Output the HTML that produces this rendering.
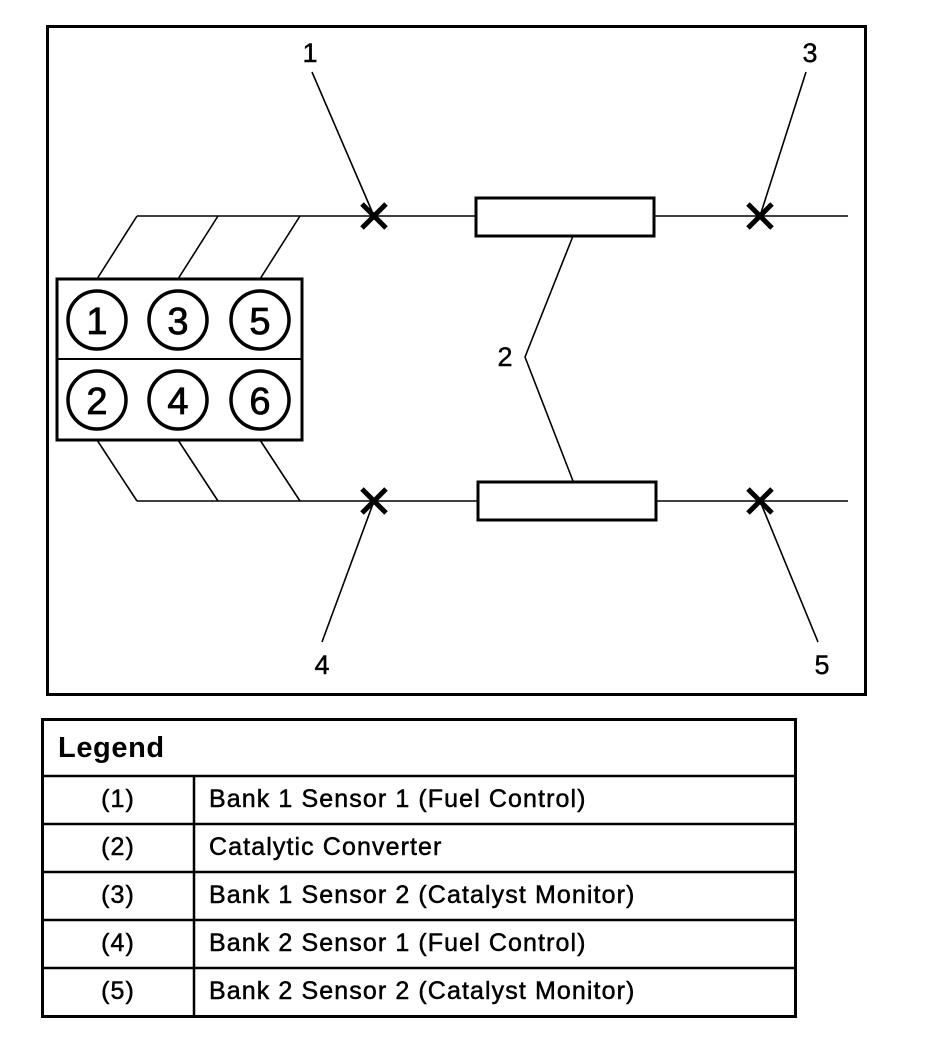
<!DOCTYPE html>
<html><head><style>
body{margin:0;background:#fff;width:928px;height:1044px;overflow:hidden}
svg{position:absolute;left:0;top:0}
</style></head><body>
<svg width="928" height="1044" xmlns="http://www.w3.org/2000/svg" font-family="Liberation Sans, sans-serif">
<rect x="0" y="0" width="928" height="1044" fill="#fff"/>
<rect x="47.5" y="26.5" width="818" height="668" fill="none" stroke="#000" stroke-width="3"/>
<rect x="57" y="279" width="245" height="161" fill="none" stroke="#000" stroke-width="3"/>
<line x1="57" y1="359" x2="302" y2="359" stroke="#000" stroke-width="2"/>
<g fill="none" stroke="#000" stroke-width="3.5">
<circle cx="97" cy="320" r="29"/><circle cx="178" cy="320" r="29"/><circle cx="260" cy="320" r="29"/>
<circle cx="97" cy="400" r="29"/><circle cx="178" cy="400" r="29"/><circle cx="260" cy="400" r="29"/>
</g>
<g font-size="38" text-anchor="middle" stroke="#000" stroke-width="0.8">
<text x="97" y="334">1</text><text x="178" y="334">3</text><text x="260" y="334">5</text>
<text x="97" y="414">2</text><text x="178" y="414">4</text><text x="260" y="414">6</text>
</g>
<g stroke="#000" stroke-width="1.6" fill="none">
<line x1="97" y1="279" x2="137" y2="216"/><line x1="178" y1="279" x2="218" y2="216"/><line x1="260" y1="279" x2="300" y2="216"/>
<line x1="97" y1="440" x2="137" y2="501"/><line x1="178" y1="440" x2="218" y2="501"/><line x1="260" y1="440" x2="300" y2="501"/>
<line x1="137" y1="216" x2="475" y2="216"/><line x1="654" y1="216" x2="848" y2="216"/>
<line x1="137" y1="501" x2="477" y2="501"/><line x1="656" y1="501" x2="848" y2="501"/>
<line x1="312" y1="72" x2="374" y2="216"/><line x1="806" y1="72" x2="760" y2="216"/>
<polyline points="573,236 525,357 573,481"/>
<line x1="374" y1="501" x2="322" y2="642"/><line x1="760" y1="501" x2="818" y2="642"/>
</g>
<g fill="none" stroke="#000" stroke-width="3">
<rect x="476" y="198" width="178" height="38"/>
<rect x="478" y="482" width="178" height="38"/>
</g>
<g stroke="#000" stroke-width="5">
<line x1="362" y1="204" x2="386" y2="228"/><line x1="386" y1="204" x2="362" y2="228"/>
<line x1="748" y1="204" x2="772" y2="228"/><line x1="772" y1="204" x2="748" y2="228"/>
<line x1="362" y1="489" x2="386" y2="513"/><line x1="386" y1="489" x2="362" y2="513"/>
<line x1="748" y1="489" x2="772" y2="513"/><line x1="772" y1="489" x2="748" y2="513"/>
</g>
<g font-size="27" text-anchor="middle" stroke="#000" stroke-width="0.4">
<text x="310" y="62">1</text><text x="810" y="62">3</text><text x="505" y="366">2</text>
<text x="322" y="674">4</text><text x="822" y="674">5</text>
</g>
<rect x="42.5" y="719.5" width="753" height="297" fill="none" stroke="#000" stroke-width="3"/>
<g stroke="#000" stroke-width="2.5">
<line x1="42" y1="776" x2="796" y2="776"/><line x1="42" y1="824" x2="796" y2="824"/>
<line x1="42" y1="872" x2="796" y2="872"/><line x1="42" y1="920" x2="796" y2="920"/>
<line x1="42" y1="968" x2="796" y2="968"/><line x1="194" y1="776" x2="194" y2="1017"/>
</g>
<text x="58" y="757" font-size="29" font-weight="bold" letter-spacing="0.6">Legend</text>
<g font-size="25" stroke="#000" stroke-width="0.5" letter-spacing="1.1">
<g text-anchor="middle">
<text x="118" y="807">(1)</text><text x="118" y="855">(2)</text><text x="118" y="903">(3)</text><text x="118" y="951">(4)</text><text x="118" y="999">(5)</text>
</g>
<text x="209" y="807">Bank 1 Sensor 1 (Fuel Control)</text>
<text x="209" y="855">Catalytic Converter</text>
<text x="209" y="903">Bank 1 Sensor 2 (Catalyst Monitor)</text>
<text x="209" y="951">Bank 2 Sensor 1 (Fuel Control)</text>
<text x="209" y="999">Bank 2 Sensor 2 (Catalyst Monitor)</text>
</g>
</svg>
</body></html>
